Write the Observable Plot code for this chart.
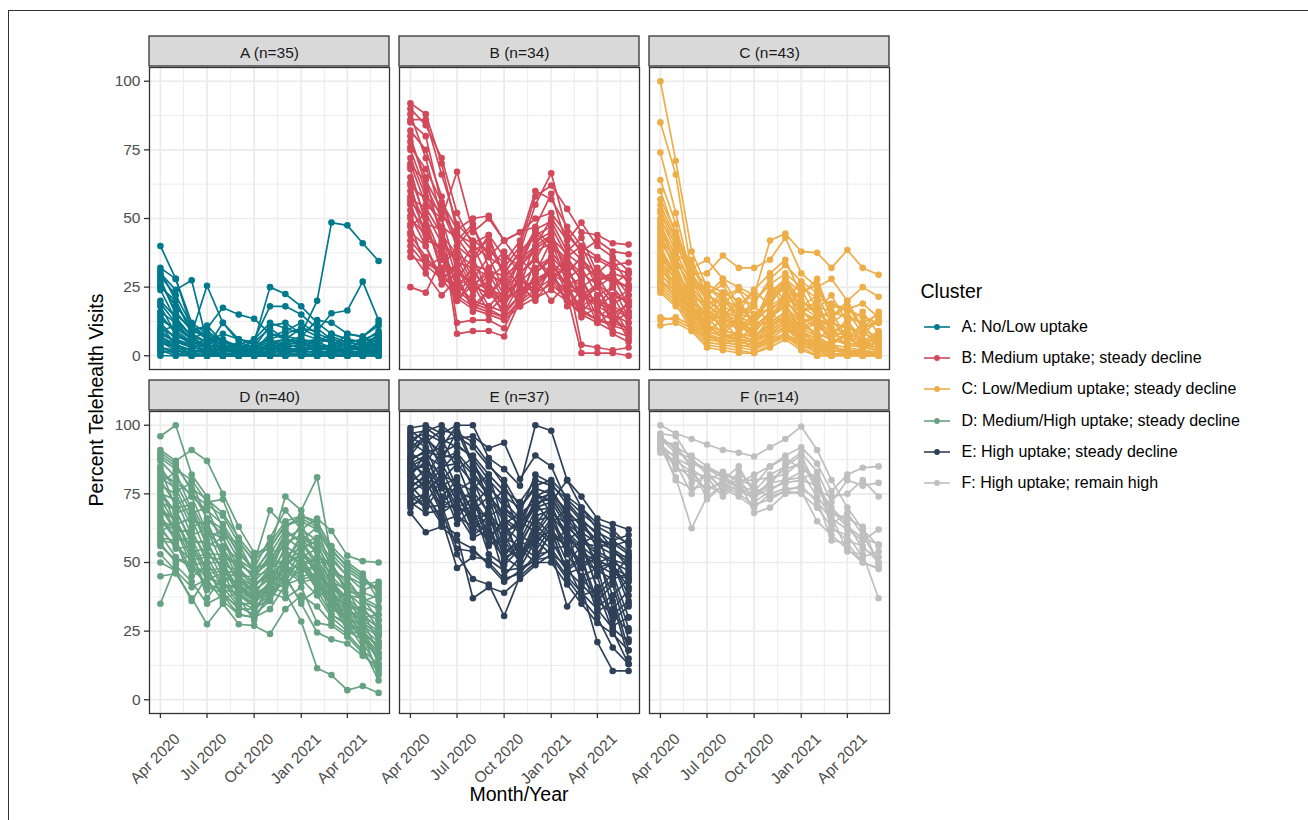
<!DOCTYPE html>
<html>
<head>
<meta charset="utf-8">
<script src="https://cdn.jsdelivr.net/npm/d3@7"></script>
<script src="https://cdn.jsdelivr.net/npm/@observablehq/plot@0.6"></script>
<style>
  html, body { margin:0; padding:0; background:#fff; }
  body { width:1308px; height:820px; position:relative; overflow:hidden; font-family:"Liberation Sans", Arial, Helvetica, sans-serif; }
  #chart { position:absolute; left:0; top:0; }
  #border { position:absolute; left:8px; top:10px; right:-2px; bottom:-2px; border-top:1.5px solid #333; border-left:1.5px solid #333; pointer-events:none; }
  #ytitle { position:absolute; left:96.5px; top:400px; transform:translate(-50%,-50%) rotate(-90deg); font-size:19.5px; line-height:1; white-space:nowrap; color:#000; }
  #xtitle { position:absolute; left:519px; top:784.5px; transform:translateX(-50%); font-size:19.5px; line-height:1; white-space:nowrap; color:#000; }
  #ltitle { position:absolute; left:920.5px; top:281.8px; font-size:19.5px; line-height:1; color:#000; white-space:nowrap; }
  .litem { position:absolute; left:923px; height:20px; display:flex; align-items:center; white-space:nowrap; }
  .litem svg { display:block; }
  .litem span { margin-left:10.5px; font-size:16px; line-height:1; color:#000; }
</style>
</head>
<body>
<div id="chart"></div>
<div id="ytitle">Percent Telehealth Visits</div>
<div id="xtitle">Month/Year</div>
<div id="legend"></div>
<div id="border"></div>
<script>
// ---------- data ----------
const months = ["2020-04","2020-05","2020-06","2020-07","2020-08","2020-09","2020-10","2020-11","2020-12","2021-01","2021-02","2021-03","2021-04","2021-05","2021-06"];
const xTickMonths = ["2020-04","2020-07","2020-10","2021-01","2021-04"];
const xMinorDates = ["2020-05-16","2020-08-16","2020-11-16","2021-02-15","2021-05-16"];
const yTicks = [0, 25, 50, 75, 100];
const yMinorTicks = [12.5, 37.5, 62.5, 87.5];
const clusterKeys = ["A","B","C","D","E","F"];
const clusterCounts = [35, 34, 43, 40, 37, 14];
const clusterNames = ["A: No/Low uptake","B: Medium uptake; steady decline","C: Low/Medium uptake; steady decline","D: Medium/High uptake; steady decline","E: High uptake; steady decline","F: High uptake; remain high"];
const clusterColors = ["#00798c","#d1495b","#edae49","#66a182","#2e4057","#bfbfbf"];

const seriesA = [
[40,28,12,8,5,3,2,4,2,3,2,4,3,2,5],
[32,28,10,6,4,2,3,2,3,1,2,3,2,4,3],
[30,24,27.5,5,3,2,2,3,1,2,3,2,1,2,4],
[31,20,8,25.5,12,6,4,3,2,3,2,1,3,2,2],
[28,15,10,10,17.5,15,13.5,8,6,4,3,2,2,3,2],
[26,18,11,6,4,3,5,25,22.5,18,12,8,6,5,7],
[19,12,6,4,3,2,6,18,18,15,10,6,5,4,6],
[18,8,5,3,12,5,3,11,12,8,20,48.5,47.5,41,34.5],
[14,9,5,4,3,2,3,5,6,10,9,15.5,16.5,27,13],
[12,6,4,2,2,1,2,4,5,7,13,12,8,7,11],
[9,5,3,2,1,1,2,3,4,5,6,5,4,3,8],
[7,4,2,1,1,0,1,2,3,4,5,8,6,5,9],
[5,3,2,1,0,1,0,1,2,3,2,3,2,4,3],
[3,2,1,0,0,0,1,0,1,2,1,2,1,2,1],
[0,0,0,0,0,0,0,0,0,0,0,0,0,0,0],
[2,0,1,0,0,1,0,0,1,0,0,1,0,0,2],
[25,20,9,7,5,4,3,6,8,10,7,5,4,3,6],
[13,10,6,9,5,3,2,4,3,2,1,2,3,5,4],
[10,7,5,3,2,2,4,6,3,2,4,3,2,6,5],
[6,3,1,2,3,1,0,2,1,3,2,0,1,1,0],
[4,6,3,2,0,0,1,3,2,1,0,0,0,1,2],
[1,2,0,0,1,0,0,1,0,1,0,0,1,0,1],
[8,5,4,3,2,4,3,2,5,6,4,3,5,4,7],
[16,12,8,5,6,3,2,7,9,12,8,6,4,3,4],
[29,22,11,7,4,2,1,3,5,4,3,2,1,1,0],
[11,4,2,1,0,0,0,2,1,0,1,0,0,0,0],
[3,1,0,1,0,0,0,0,0,1,0,0,0,0,1],
[20,14,7,5,8,6,5,10,6,5,4,7,5,6,8],
[27,16,9,11,5,4,6,12,10,8,6,5,3,2,3],
[15,8,4,6,3,2,1,5,4,3,2,1,2,1,2],
[5,2,1,0,1,0,0,0,1,0,0,1,0,0,0],
[9,11,6,4,2,3,2,4,6,5,3,4,2,3,5],
[24,13,7,3,2,1,2,8,7,6,5,3,8,7,12],
[2,1,0,0,0,0,0,0,0,0,0,0,0,0,0],
[7,3,2,2,1,0,1,1,2,2,1,1,2,1,1]
];

const seriesB = [
[92,88,70,45,38,42,30,38,55,66.5,45,38,35,32,30],
[90,84,72,52,40,36,32,40,58,62,53.5,45,44,41,40.5],
[88,72,50,67,45,50,42,45,47,59,40,35,30,28,25],
[85,80,55,42,48,32,38,30,35,45,28,32,22,25,18],
[82,75,58,40,35,44,28,35,40,50,42,48.5,40,36,31],
[80,62,50,31,40,28,33,25,42,45,30,36,25,29,18],
[78,65,42,35,25,32,22,35,30,42,26,28,18,22,12],
[75,60,45,8,9,9,7,20,30,35,25,22,18,15,12],
[72,58,52,44,41,44,36,33,45,38,30,25,29,20,24],
[70,55,50,12,13,13,10,22,28,30,20,18,16,13,10],
[68,48,46,28,36,22,30,20,35,28,33,20,26,12,20],
[65,50,36,38,26,30,20,32,40,44,30,36,27,30,28],
[63,42,40,25,32,22,28,18,30,36,22,26,14,18,8],
[60,48,32,40,28,36,24,36,46,40,34,28,32,26,30],
[58,45,38,20,26,16,22,28,22,32,18,24,12,16,6],
[56,50,30,33,24,27,18,30,36,28,32,22,26,19,22],
[55,42,40,26,20,18,16,22,26,30,22,1,1,1,0],
[53,46,35,30,27,24,22,27,32,36,30,4,3,2,3],
[51,40,28,32,22,30,26,20,35,30,36,27,18,25,14],
[50,44,38,22,18,16,14,20,24,28,20,16,13,11,9],
[48,32,36,20,28,18,24,30,22,33,26,16,22,12,16],
[47,52,41,34,32,29,27,33,38,41,35,30,26,22,20],
[45,40,26,30,16,24,15,22,28,20,26,14,18,8,5],
[44,36,29,24,19,17,14,19,23,26,21,17,13,12,10],
[42,35,31,22,30,25,18,28,24,34,29,20,25,15,19],
[40,33,28,21,17,15,13,18,21,24,20,15,12,9,7],
[38,30,22,28,18,24,16,26,20,28,24,18,22,12,16],
[36,34,30,28,25,23,21,24,27,30,26,23,20,18,15],
[25,23,35,30,26,22,20,24,28,31,27,22,19,17,14],
[86,86,66,48,42,38,34,42,60,57,47,40,36,33,34],
[76,68,56,46,50,51,42,45,50,52,44,38,42,38,37],
[62,57,47,43,35,40,30,38,44,47,36,40,28,30,22],
[69,64,53,40,47,36,42,34,46,49,38,43,30,35,26],
[57,54,44,37,33,31,29,34,39,43,37,33,29,27,25]
];

const seriesC = [
[100,71,38,25,20,18,15,20,25,18,14,10,8,6,5],
[85,66,30,22,18,15,14,22,28,20,15,12,10,8,6],
[74,52,28,20,16,14,12,18,22,16,12,9,7,5,4],
[64,48,25,18,15,13,11,15,20,14,10,8,6,4,3],
[57,45,32,35,28,25,22,42,44.5,38,37.5,32,38.5,32,29.5],
[55,43,30,30,36.5,32,32,35,43,30,25,28,20,25,21.5],
[52,40,35,22,28,18,24,30,35,22,28,14,18,10,12],
[50,38,26,24,14,20,12,25,18,24,14,16,6,12,4],
[48,36,22,10,18,8,14,20,25,12,14,4,8,2,5],
[47,33,20,14,12,10,9,14,18,12,8,6,4,3,2],
[45,35,24,16,22,12,18,12,24,16,18,8,12,4,8],
[44,30,18,12,6,9,4,12,16,10,3,4,1,2,0],
[42,32,20,16,10,14,8,16,11,14,6,10,3,6,1],
[41,34,26,22,19,24,15,20,26,20,16,14,18,10,13],
[40,28,16,10,8,7,6,10,14,8,5,3,2,1,1],
[39,30,19,8,14,12,6,14,19,9,12,5,7,3,5],
[38,29,12,18,9,14,7,12,16,10,7,4,8,2,1],
[37,27,15,9,7,6,5,9,13,8,5,2,1,1,0],
[36,31,22,14,20,15,18,12,22,17,10,13,6,9,4],
[35,25,14,8,4,7,2,8,12,6,3,1,0,1,0],
[34,28,21,19,13,18,12,21,27,18,22,12,16,8,13],
[33,26,17,11,9,8,7,11,15,9,6,3,2,2,1],
[32,24,12,6,5,4,3,6,10,5,2,0,1,0,0],
[31,27,20,13,17,10,15,17,21,12,15,6,10,3,8],
[30,23,13,7,6,5,4,7,11,6,3,1,0,0,1],
[29,25,18,14,8,13,6,14,18,10,13,5,8,2,6],
[28,22,11,5,4,3,2,5,8,4,1,0,0,1,0],
[27,24,16,9,13,6,11,12,16,11,8,6,5,3,2],
[26,21,10,4,3,2,1,4,7,3,0,0,1,0,0],
[25,20,15,11,9,8,7,11,14,9,6,4,3,2,1],
[24,19,9,3,2,1,1,3,6,2,0,0,0,0,0],
[14,13,10,8,6,5,4,6,8,5,3,2,1,1,0],
[11,12,9,7,5,4,3,5,7,4,2,1,0,0,0],
[13,14,11,9,7,6,5,8,10,6,4,3,2,1,2],
[46,37,33,22,26,16,24,18,28,23,26,14,20,10,16],
[43,35,28,24,22,24,20,26,30,25,21,19,17,14,12],
[49,41,29,21,15,19,11,23,28,16,20,8,13,5,9],
[53,42,27,18,23,14,20,26,20,27,17,22,12,16,8],
[35,30,23,17,13,11,10,16,22,19,18,16,14,12,15],
[60,44,31,26,23,20,19,28,33,27,23,18,17,19,14],
[31,26,19,10,8,6,5,9,13,7,4,2,2,1,1],
[27,22,17,15,13,12,11,15,19,16,13,12,10,9,7],
[23,18,13,9,7,6,5,8,12,7,4,2,1,0,0]
];

const seriesD = [
[96,100,82,74,63,53,48,59,69,62,66,61.5,52.5,50.5,50],
[91,87,91,87,75,63,53.5,55,74,69,81,52,45,42,43],
[88,84,80,72,73,58,50,69,63,67,65,55,48,44,40],
[85,76,79,66,60,57,46,50,61,58,63,47,44,36,33],
[82,79,68,70,56,51,47,54,55,64,52,50,38,37,29],
[80,71,74,61,59,48,42,46,59,55,58,43,40,30,31],
[78,75,63,65,52,50,45,51,50,60,54,45,33,34,26],
[76,68,70,57,55,44,40,44,56,52,55,41,37,28,24],
[75,73,60,62,49,47,43,49,48,57,49,44,31,32,21],
[73,64,66,53,53,42,38,42,53,50,51,37,35,25,19],
[72,69,57,58,46,45,41,47,45,54,46,40,28,29,17],
[70,61,62,50,50,40,36,40,51,47,48,35,32,23,15],
[68,66,54,55,44,43,39,45,43,52,43,38,27,26,13],
[66,58,59,47,48,38,34,38,49,45,46,33,30,21,11],
[65,63,51,52,42,41,37,43,41,50,41,36,25,24,9],
[63,55,56,44,46,36,33,37,47,43,44,31,28,19,7],
[60,52,48,42,40,39,35,41,39,28.5,11.5,9,3.5,5,2.5],
[58,57,45,48,38,34,31,36,45,35,24.5,22,20.5,16,12],
[57,50,53,40,43,37,29,39,37,41,28,27,23,17,10],
[50,47,41,44,36,31,30,33,42,44,38,30,25,22,15],
[45,46,37,27.5,35,27.5,27,24,33,38,34,28,24,18,13],
[35,49,43,35,38,31,30,38,44,36,40,31,27,24,20],
[90,86,76,66,62,54,47,51,59,62,58,49,42,37,34],
[87,81,74,69,64,55,46,50,57,60,56,47,41,36,38],
[84,70,71,60,61,51,44,53,62,57,59,51,45,40,42],
[81,77,65,64,52,49,46,55,64,65,62,53,47,43,41],
[79,83,69,56,59,45,45,47,61,58,50,50,39,39,37],
[77,64,66,61,55,47,41,48,51,58,54,45,39,34,31],
[74,69,58,57,47,46,38,47,54,49,51,43,37,32,29],
[71,62,61,52,51,44,39,41,53,55,45,41,35,30,27],
[69,66,52,53,49,39,42,45,51,47,49,42,36,31,26],
[67,59,57,46,47,42,37,38,50,53,48,39,33,28,24],
[64,62,49,50,41,41,36,43,45,51,42,37,31,26,21],
[62,56,51,44,43,35,35,42,48,44,45,36,30,25,19],
[59,58,47,48,37,39,34,36,47,49,40,35,29,24,17],
[56,51,50,41,39,33,33,40,42,48,43,34,28,23,16],
[83,79,75,71,67,57,51,56,63,66,63,54,49,45,39],
[89,85,77,73,68,59,52,57,65,67,64,56,50,46,36],
[61,65,55,37,45,42,36,41,49,53,47,38,32,27,23],
[53,47,36,45,41,34,31,44,51,54,49,40,33,29,25]
];

const seriesE = [
[99,100,97,100,100,88,84,78,100,98,80,70,62,55,48],
[97,98,100,95,96,91.6,93.6,80.4,89,85,72,66,60,54,50],
[94,90,92,100,86,78,70,65,75,72,80,74,66,64,62],
[92,96,88,90,83,75,66,62,70,76,68,64,58,56,58],
[90,86,95,84,88,72,76,60,72,73,65,66,55,58,54],
[89,96,84,90,77,82,64,68,72,64,70,57,60,45,52],
[88,80,86,76,80,67,70,63,76,68,64,60,50,52,43],
[87,91,80,86,71,77,60,66,64,71,58,62,48,50,38],
[86,82,90,77,69,74,56,65,61,70,60,55,46,50,35],
[85,88,78,81,62,70,54,57,66,60,56,48,52,38,44],
[84,76,81,70,73,60,63,53,60,68,54,58,40,46,30],
[83,86,72,78,65,68,52,60,56,65,57,49,54,33,40],
[82,78,84,72,76,58,66,51,62,57,62,44,38,44,26],
[81,90,74,80,68,64,50,58,54,63,50,56,41,31,36],
[80,76,82,66,74,56,60,50,64,58,48,52,36,42,22],
[79,84,72,76,62,67,52,48,58,66,53,45,48,29,34],
[78,72,80,68,59,62,51,56,52,61,47,51,34,38,18],
[77,82,70,74,66,57,58,50,60,55,56,43,45,27,30],
[76,70,78,64,70,53,49,55,50,62,46,48,32,36,15],
[75,80,68,72,60,64,45,52,58,53,49,38,40,25,13],
[74,70,71,55,54,50,44,46,53,54,34,41,21,10.5,10.5],
[73,75,66,48,52,51,47,48,51,52,44,37,30,19,13],
[72,68,69,53,44,42,30.5,45,50,50,42,35,28,24,18],
[71,73,64,60,37,41,39,44,49,53,45,39,33,26,21],
[68,61,63,58,55,49,43,47,51,55,47,42,36,31,25],
[95,97,94,96,92,85,80,70,78,80,74,70,64,62,56],
[93,99,95,92,89,82,76,72,80,78,73,68,63,60,57],
[98,94,98,97,94,86,78,68,82,79,71,65,61,58,60],
[91,95,90,93,88,80,74,70,77,75,69,63,58,57,53],
[96,92,87,98,85,77,72,66,74,77,67,61,57,55,51],
[70,75,65,67,63,59,52,54,58,62,55,51,47,44,46],
[76,79,70,71,66,60,55,52,65,67,60,53,49,46,44],
[82,87,82,79,76,68,61,64,70,72,63,58,53,50,47],
[86,89,85,86,79,73,65,61,73,75,66,59,54,51,49],
[78,81,73,69,70,66,59,56,67,69,61,56,51,48,45],
[88,90,89,88,82,74,68,64,71,74,64,57,56,53,52],
[84,85,77,76,73,65,63,58,69,70,59,54,50,49,41]
];

const seriesF = [
[100,97,95,93,91,90,88.6,92,95,99.5,91,80,70,62,56],
[97,96,87,84,82,80,78,85,89,92,86,76,82,84.5,85],
[95,90,88,82,80,85,75,78,86,90,83,72,80,78,79],
[94,93,84,80,83,80,80,81,82,87,76,74,75,80,74],
[93,88,85,73,78,75,71,73,76,78,72,66,62,58,62],
[92,81,62.5,74,78,80,68,70,75,76,65,60,55,50,48],
[92,86,75,83,76,83,77,74,76,75,70,63,58,56,50],
[91,85,81,77,79,76,74,77,79,80,78,70,64,55,52],
[90,87,83,81,74,79,82,85,88,84,81,62,60,52,54],
[96,91,86,84,81,77,73,80,84,86,79,68,66,63,49],
[93,80,77,78,75,81,72,76,80,83,74,67,54,53,37],
[95,92,89,85,82,77,75,79,80,81,82,64,68,60,50],
[91,89,79,82,77,74,70,75,77,77,73,58,57,50,47.6],
[94,84,83,76,80,78,76,82,85,89,77,69,63,59,56.6]
];

// ---------- build ----------
const allSeries = [seriesA, seriesB, seriesC, seriesD, seriesE, seriesF];
const parseMonth = d3.utcParse("%Y-%m");
const parseDay = d3.utcParse("%Y-%m-%d");
const dates = months.map(parseMonth);
const majorDates = xTickMonths.map(parseMonth);
const minorDates = xMinorDates.map(parseDay);
const t0 = +dates[0], t1 = +dates[dates.length - 1];
const pad = (t1 - t0) * 0.05;
const xDomain = [new Date(t0 - pad), new Date(t1 + pad)];

const rows = allSeries.flatMap((lines, ci) =>
  lines.flatMap((vals, li) =>
    vals.map((v, mi) => ({
      cluster: clusterKeys[ci], id: clusterKeys[ci] + "-" + li,
      date: dates[mi], value: v, col: ci % 3, row: Math.floor(ci / 3)
    }))));

const facets = clusterKeys.map((k, i) => ({
  key: k, label: `${k} (n=${clusterCounts[i]})`, col: i % 3, row: Math.floor(i / 3)
}));

const stripH = 31;
const panelH = 303;
const grid = "#ebebeb";
const dark = "#333333";

const chart = Plot.plot({
  width: 900,
  height: 820,
  marginLeft: 148,
  marginRight: 9.5,
  marginTop: 66,
  marginBottom: 106,
  style: {fontFamily: "'Liberation Sans', Arial, Helvetica, sans-serif", fontSize: "15.5px", background: "transparent", overflow: "visible"},
  fx: {domain: [0, 1, 2], paddingInner: 0.04, paddingOuter: 0, axis: null},
  fy: {domain: [0, 1], paddingInner: 0.1217, paddingOuter: 0, axis: null},
  x: {type: "utc", domain: xDomain},
  y: {domain: [-5, 105]},
  color: {domain: clusterKeys, range: clusterColors},
  marks: [
    Plot.gridX(minorDates, {stroke: grid, strokeOpacity: 1, strokeWidth: 0.9}),
    Plot.gridY(yMinorTicks, {stroke: grid, strokeOpacity: 1, strokeWidth: 0.9}),
    Plot.gridX(majorDates, {stroke: grid, strokeOpacity: 1, strokeWidth: 1.7}),
    Plot.gridY(yTicks, {stroke: grid, strokeOpacity: 1, strokeWidth: 1.7}),
    Plot.line(rows, {x: "date", y: "value", z: "id", fx: "col", fy: "row", stroke: "cluster", strokeWidth: 1.7, curve: "linear"}),
    Plot.dot(rows, {x: "date", y: "value", fx: "col", fy: "row", fill: "cluster", r: 3.3}),
    Plot.frame({stroke: dark, strokeWidth: 1.3}),
    Plot.rect(facets, {fx: "col", fy: "row", fill: "#d9d9d9", stroke: dark, strokeWidth: 1.3, insetTop: -stripH, insetBottom: panelH}),
    Plot.text(facets, {fx: "col", fy: "row", text: "label", frameAnchor: "top", lineAnchor: "middle", dy: -stripH / 2 + 1, fontSize: 15.5, fill: "#1a1a1a"}),
    Plot.axisY(yTicks, {tickSize: 5, tickPadding: 4, stroke: dark, strokeWidth: 1.3, fill: "#4d4d4d", fontSize: 15.5, label: null}),
    Plot.axisX(majorDates, {tickSize: 5, stroke: dark, strokeWidth: 1.3, fill: "none", label: null}),
    Plot.axisX(majorDates, {tickSize: 5, tickPadding: 0, stroke: "none", tickRotate: -45, tickFormat: "%b %Y", fill: "#4d4d4d", fontSize: 15.5, dx: 17, dy: 18, label: null})
  ]
});
document.getElementById("chart").appendChild(chart);

// ---------- legend ----------
const legend = document.getElementById("legend");
const lt = document.createElement("div");
lt.id = "ltitle"; lt.textContent = "Cluster";
legend.appendChild(lt);
const rowCenters0 = 326.7, rowStep = 31.3;
clusterNames.forEach((name, i) => {
  const item = document.createElement("div");
  item.className = "litem";
  item.style.top = (rowCenters0 + i * rowStep - 10) + "px";
  const svg = d3.create("svg").attr("width", 28).attr("height", 20);
  svg.append("line").attr("x1", 1).attr("x2", 27).attr("y1", 10).attr("y2", 10).attr("stroke", clusterColors[i]).attr("stroke-width", 1.6);
  svg.append("circle").attr("cx", 14).attr("cy", 10).attr("r", 2.9).attr("fill", clusterColors[i]);
  item.appendChild(svg.node());
  const span = document.createElement("span");
  span.textContent = name;
  item.appendChild(span);
  legend.appendChild(item);
});
</script>
</body>
</html>
